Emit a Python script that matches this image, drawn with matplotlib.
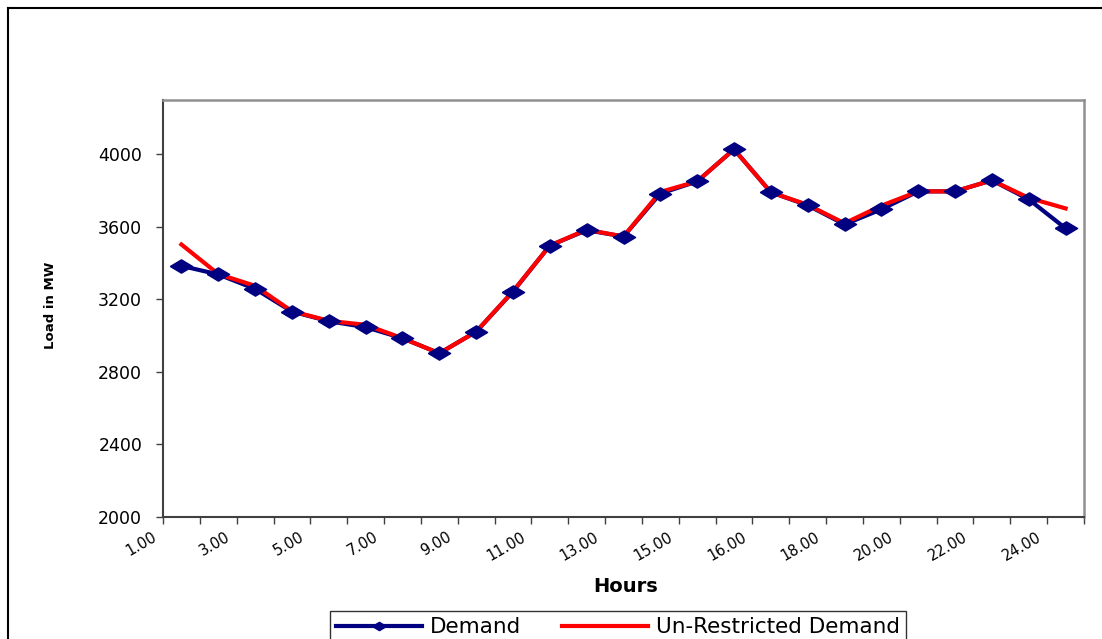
import numpy as np
import matplotlib
matplotlib.use("Agg")
import matplotlib.pyplot as plt
from matplotlib.lines import Line2D
from matplotlib.transforms import ScaledTranslation

hours = ['1.00', '2.00', '3.00', '4.00', '5.00', '6.00', '7.00', '8.00',
         '9.00', '10.00', '11.00', '12.00', '13.00', '14.00', '15.00', '15.30',
         '16.00', '17.00', '18.00', '19.00', '20.00', '21.00', '22.00', '23.00',
         '24.00']
demand = [3385, 3338, 3258, 3133, 3080, 3047, 2986, 2903, 3022, 3243, 3497,
          3582, 3547, 3784, 3851, 4028, 3791, 3719, 3614, 3697, 3796, 3796,
          3857, 3752, 3592]
unrestricted = [3503, 3340, 3275, 3135, 3082, 3060, 2986, 2903, 3022, 3245,
                3497, 3585, 3547, 3793, 3851, 4028, 3791, 3722, 3620, 3717,
                3796, 3796, 3857, 3760, 3702]
yticks = [2000, 2400, 2800, 3200, 3600, 4000]

W, H = 1102, 639
fig = plt.figure(figsize=(W / 100, H / 100), dpi=100)
ax = fig.add_axes([163 / W, 1 - 517 / H, (1084 - 163) / W, (517 - 100) / H])

x = np.arange(len(hours))
diamond = [(-1, 0), (0, 0.6), (1, 0), (0, -0.6), (-1, 0)]

ax.plot(x, demand, color='#000080', lw=3, zorder=2)
ax.plot(x, unrestricted, color='#ff0000', lw=3, zorder=3)
ax.plot(x, demand, ls='none', marker=diamond, markersize=16,
        color='#000080', zorder=4)

ax.set_xlim(-0.5, len(hours) - 0.5)
ax.set_ylim(2000, 4300)

ax.set_yticks(yticks)
ax.tick_params(axis='y', labelsize=12.5, length=5, width=1, pad=10,
               color='#404040')

# tick marks between categories, labels on every second category
ax.set_xticks(np.arange(-0.5, len(hours)), labels=[])
ax.tick_params(axis='x', which='major', length=5, width=1, color='#404040')
ax.set_xticks(x[::2], labels=hours[::2], minor=True)
ax.tick_params(axis='x', which='minor', length=0, pad=9, labelsize=10.5)
shift = ScaledTranslation(-0.22, 0, fig.dpi_scale_trans)
for lab in ax.get_xticklabels(minor=True):
    lab.set_rotation(30)
    lab.set_ha('right')
    lab.set_va('top')
    lab.set_transform(lab.get_transform() + shift)

for side in ['left', 'bottom']:
    ax.spines[side].set_color('#404040')
    ax.spines[side].set_linewidth(1.5)
for side in ['top', 'right']:
    ax.spines[side].set_color('#909090')
    ax.spines[side].set_linewidth(1.8)

fig.text(50 / W, 1 - 305 / H, 'Load in MW', rotation=90, fontsize=9.5,
         fontweight='bold', ha='center', va='center')
fig.text(626 / W, 1 - 586 / H, 'Hours', fontsize=14, fontweight='bold',
         ha='center', va='center')

handles = [Line2D([], [], color='#000080', lw=3, marker=diamond, markersize=10),
           Line2D([], [], color='#ff0000', lw=3)]
leg = fig.legend(handles, ['Demand', 'Un-Restricted Demand'], ncol=2,
                 loc='upper center', bbox_to_anchor=(618 / W, 1 - 611 / H),
                 bbox_transform=fig.transFigure, fontsize=15.5,
                 frameon=True, fancybox=False, handlelength=4.0,
                 handletextpad=0.35, columnspacing=1.9, borderpad=0.3,
                 borderaxespad=0)
leg.get_frame().set_edgecolor('black')
leg.get_frame().set_linewidth(1)

# outer chart border
fig.add_artist(Line2D([8 / W, 1], [1 - 8 / H, 1 - 8 / H], color='black',
                      lw=1.5, transform=fig.transFigure))
fig.add_artist(Line2D([8 / W, 8 / W], [0, 1 - 8 / H], color='black',
                      lw=1.5, transform=fig.transFigure))

fig.savefig('out.png', dpi=100)
